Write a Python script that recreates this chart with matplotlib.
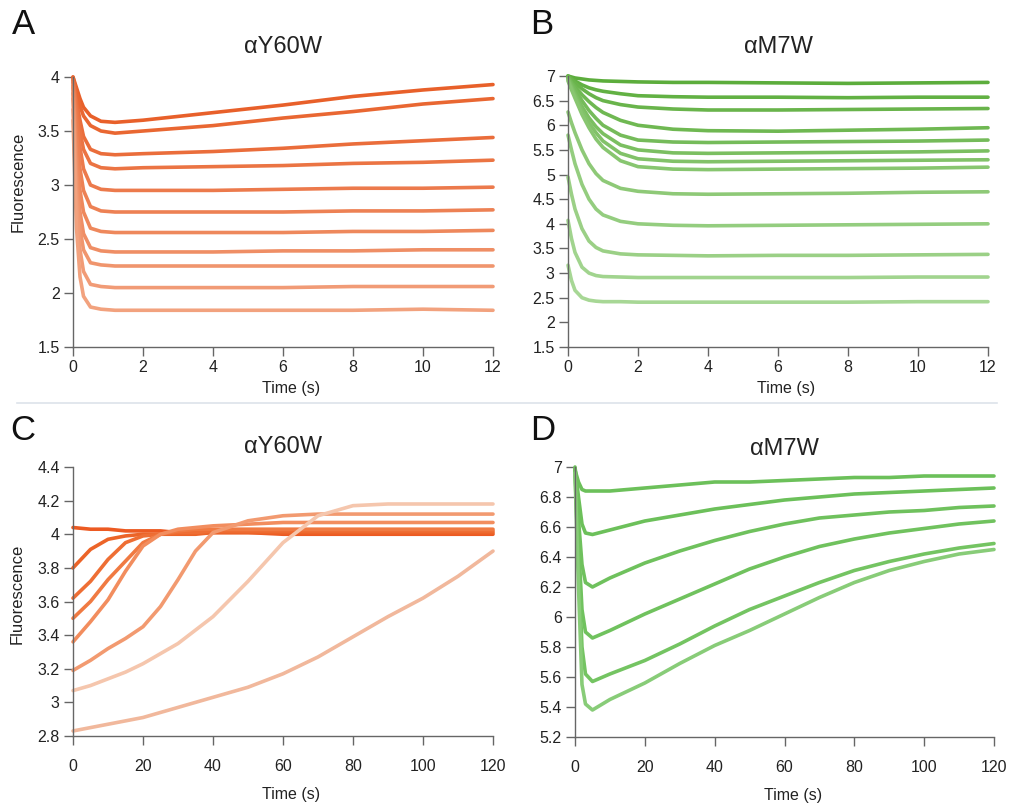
import numpy as np
import matplotlib
matplotlib.use("Agg")
import matplotlib.pyplot as plt
from matplotlib.colors import to_rgb
from matplotlib.lines import Line2D

plt.rcParams["font.family"] = ["Liberation Sans", "DejaVu Sans"]

# ---- panel A: alphaY60W, 0-12 s ----
tA = [0, 0.05, 0.1, 0.2, 0.3, 0.5, 0.8, 1.2, 2, 4, 6, 8, 10, 12]
fA = [
    [4.00, 3.95, 3.90, 3.80, 3.72, 3.64, 3.59, 3.58, 3.60, 3.67, 3.74, 3.82, 3.88, 3.93],
    [4.00, 3.93, 3.86, 3.73, 3.64, 3.55, 3.50, 3.48, 3.50, 3.55, 3.62, 3.68, 3.75, 3.80],
    [3.98, 3.88, 3.78, 3.60, 3.45, 3.33, 3.29, 3.28, 3.29, 3.31, 3.34, 3.38, 3.41, 3.44],
    [3.97, 3.85, 3.72, 3.50, 3.33, 3.20, 3.16, 3.15, 3.16, 3.17, 3.18, 3.20, 3.21, 3.23],
    [3.95, 3.80, 3.62, 3.35, 3.15, 3.00, 2.96, 2.95, 2.95, 2.95, 2.96, 2.97, 2.97, 2.98],
    [3.92, 3.70, 3.48, 3.15, 2.95, 2.80, 2.76, 2.75, 2.75, 2.75, 2.75, 2.76, 2.76, 2.77],
    [3.90, 3.60, 3.30, 2.95, 2.75, 2.60, 2.57, 2.56, 2.56, 2.56, 2.56, 2.57, 2.57, 2.58],
    [3.85, 3.50, 3.15, 2.75, 2.55, 2.42, 2.39, 2.38, 2.38, 2.38, 2.39, 2.39, 2.40, 2.40],
    [3.80, 3.40, 3.00, 2.60, 2.40, 2.28, 2.26, 2.25, 2.25, 2.25, 2.25, 2.25, 2.25, 2.25],
    [3.70, 3.25, 2.85, 2.40, 2.20, 2.08, 2.06, 2.05, 2.05, 2.05, 2.05, 2.06, 2.06, 2.06],
    [3.60, 3.10, 2.60, 2.15, 1.97, 1.87, 1.85, 1.84, 1.84, 1.84, 1.84, 1.84, 1.85, 1.84],
]

# ---- panel B: alphaM7W, 0-12 s ----
tB = [0, 0.1, 0.2, 0.4, 0.6, 0.8, 1.0, 1.5, 2, 3, 4, 6, 8, 10, 12]
fB = [
    [7.00, 6.98, 6.96, 6.94, 6.92, 6.91, 6.90, 6.89, 6.88, 6.87, 6.87, 6.86, 6.85, 6.86, 6.87],
    [7.00, 6.95, 6.90, 6.82, 6.76, 6.72, 6.69, 6.64, 6.60, 6.58, 6.57, 6.57, 6.56, 6.57, 6.57],
    [7.00, 6.93, 6.86, 6.74, 6.64, 6.56, 6.50, 6.42, 6.37, 6.33, 6.31, 6.31, 6.32, 6.33, 6.34],
    [6.98, 6.88, 6.79, 6.62, 6.48, 6.36, 6.26, 6.10, 6.00, 5.92, 5.89, 5.88, 5.90, 5.92, 5.95],
    [6.97, 6.85, 6.73, 6.50, 6.30, 6.14, 6.00, 5.80, 5.70, 5.66, 5.65, 5.66, 5.67, 5.68, 5.70],
    [6.95, 6.80, 6.65, 6.38, 6.15, 5.97, 5.83, 5.60, 5.50, 5.44, 5.43, 5.44, 5.45, 5.46, 5.48],
    [6.93, 6.76, 6.60, 6.30, 6.05, 5.85, 5.68, 5.43, 5.32, 5.27, 5.26, 5.27, 5.28, 5.29, 5.30],
    [6.90, 6.72, 6.55, 6.22, 5.95, 5.72, 5.55, 5.28, 5.16, 5.11, 5.10, 5.11, 5.12, 5.13, 5.15],
    [6.27, 6.05, 5.85, 5.50, 5.22, 5.02, 4.88, 4.72, 4.66, 4.61, 4.60, 4.61, 4.62, 4.64, 4.65],
    [5.80, 5.50, 5.22, 4.80, 4.50, 4.30, 4.18, 4.05, 4.00, 3.97, 3.96, 3.97, 3.98, 3.99, 4.00],
    [4.95, 4.60, 4.30, 3.90, 3.65, 3.52, 3.45, 3.39, 3.37, 3.36, 3.35, 3.36, 3.36, 3.37, 3.38],
    [4.07, 3.70, 3.42, 3.12, 3.00, 2.95, 2.93, 2.92, 2.91, 2.91, 2.91, 2.91, 2.91, 2.92, 2.92],
    [3.16, 2.85, 2.65, 2.50, 2.45, 2.43, 2.42, 2.42, 2.41, 2.41, 2.41, 2.41, 2.41, 2.42, 2.42],
]

# ---- panel C: alphaY60W, 0-120 s ----
tC = [0, 5, 10, 15, 20, 25, 30, 35, 40, 50, 60, 70, 80, 90, 100, 110, 120]
fC = [
    [4.04, 4.03, 4.03, 4.02, 4.02, 4.02, 4.01, 4.01, 4.01, 4.01, 4.00, 4.00, 4.00, 4.00, 4.00, 4.00, 4.00],
    [3.80, 3.91, 3.97, 3.99, 4.00, 4.00, 4.00, 4.00, 4.01, 4.01, 4.01, 4.01, 4.01, 4.01, 4.01, 4.01, 4.01],
    [3.62, 3.72, 3.85, 3.95, 3.99, 4.00, 4.01, 4.01, 4.02, 4.02, 4.02, 4.02, 4.02, 4.02, 4.02, 4.02, 4.02],
    [3.50, 3.60, 3.73, 3.84, 3.95, 4.00, 4.02, 4.03, 4.03, 4.03, 4.03, 4.03, 4.03, 4.03, 4.03, 4.03, 4.03],
    [3.36, 3.48, 3.61, 3.78, 3.93, 4.00, 4.03, 4.04, 4.05, 4.06, 4.07, 4.07, 4.07, 4.07, 4.07, 4.07, 4.07],
    [3.19, 3.25, 3.32, 3.38, 3.45, 3.57, 3.73, 3.90, 4.01, 4.08, 4.11, 4.12, 4.12, 4.12, 4.12, 4.12, 4.12],
    [3.07, 3.10, 3.14, 3.18, 3.23, 3.29, 3.35, 3.43, 3.51, 3.72, 3.95, 4.11, 4.17, 4.18, 4.18, 4.18, 4.18],
    [2.83, 2.85, 2.87, 2.89, 2.91, 2.94, 2.97, 3.00, 3.03, 3.09, 3.17, 3.27, 3.39, 3.51, 3.62, 3.75, 3.90],
]

# ---- panel D: alphaM7W, 0-120 s ----
tD = [0, 1, 2, 3, 5, 10, 20, 30, 40, 50, 60, 70, 80, 90, 100, 110, 120]
fD = [
    [6.98, 6.90, 6.85, 6.84, 6.84, 6.84, 6.86, 6.88, 6.90, 6.90, 6.91, 6.92, 6.93, 6.93, 6.94, 6.94, 6.94],
    [7.00, 6.80, 6.62, 6.56, 6.55, 6.58, 6.64, 6.68, 6.72, 6.75, 6.78, 6.80, 6.82, 6.83, 6.84, 6.85, 6.86],
    [6.99, 6.65, 6.35, 6.23, 6.20, 6.26, 6.36, 6.44, 6.51, 6.57, 6.62, 6.66, 6.68, 6.70, 6.71, 6.73, 6.74],
    [6.98, 6.50, 6.05, 5.90, 5.86, 5.91, 6.02, 6.12, 6.22, 6.32, 6.40, 6.47, 6.52, 6.56, 6.59, 6.62, 6.64],
    [6.97, 6.35, 5.80, 5.62, 5.57, 5.62, 5.71, 5.82, 5.94, 6.05, 6.14, 6.23, 6.31, 6.37, 6.42, 6.46, 6.49],
    [6.96, 6.20, 5.55, 5.42, 5.38, 5.45, 5.56, 5.69, 5.81, 5.91, 6.02, 6.13, 6.23, 6.31, 6.37, 6.42, 6.45],
]

titles = ["\u03b1Y60W", "\u03b1M7W", "\u03b1Y60W", "\u03b1M7W"]
letters = ["A", "B", "C", "D"]


def shades(c0, c1, n):
    a, b = np.array(to_rgb(c0)), np.array(to_rgb(c1))
    return [tuple(a + (b - a) * i / max(n - 1, 1)) for i in range(n)]


colA = shades("#e8602a", "#f2a27e", len(fA))
colB = shades("#5cad3c", "#a7d795", len(fB))
colC = ["#ec5a22", "#ec6428", "#ee6e34", "#f07a42", "#f28d5e", "#f29a70",
        "#f5c6ad", "#f1b89c"]
colD = ["#6cc05a", "#6cc05a", "#6fc15d", "#70c25e", "#74c462", "#88cc78"]

fig = plt.figure(figsize=(10.13, 8.09), dpi=100)
W, H = 1013, 809
FS = 11.5


def make_ax(x0, x1, ytop, ybot):
    return fig.add_axes([x0 / W, 1 - ybot / H, (x1 - x0) / W, (ybot - ytop) / H])


axA = make_ax(73, 493, 77, 347)
axB = make_ax(568, 988, 76, 347)
axC = make_ax(73, 493, 467, 736)
axD = make_ax(575, 994, 467, 737)


def style(ax, xlim, ylim, yticks, ylabels, xticks, xpad, xlab_y):
    ax.set_xlim(*xlim)
    ax.set_ylim(*ylim)
    for s in ["top", "right"]:
        ax.spines[s].set_visible(False)
    for s in ["left", "bottom"]:
        ax.spines[s].set_color("#666666")
        ax.spines[s].set_linewidth(1.0)
    ax.set_yticks(yticks)
    ax.set_yticklabels(ylabels)
    ax.set_xticks(xticks)
    ax.set_xticklabels([str(v) for v in xticks])
    ax.tick_params(axis="both", direction="out", length=6.5, width=1.0,
                   color="#666666", labelsize=FS, labelcolor="#222222")
    ax.tick_params(axis="y", pad=3)
    ax.tick_params(axis="x", pad=xpad)
    ax.set_xlabel("Time (s)", fontsize=FS, color="#222222")
    ax.xaxis.set_label_coords(0.52, xlab_y)
    ax.set_facecolor("none")


style(axA, (0, 12), (1.5, 4.0), [1.5, 2, 2.5, 3, 3.5, 4],
      ["1.5", "2", "2.5", "3", "3.5", "4"], [0, 2, 4, 6, 8, 10, 12], 3, -0.125)
style(axB, (0, 12), (1.5, 7.0), [1.5, 2, 2.5, 3, 3.5, 4, 4.5, 5, 5.5, 6, 6.5, 7],
      ["1.5", "2", "2.5", "3", "3.5", "4", "4.5", "5", "5.5", "6", "6.5", "7"],
      [0, 2, 4, 6, 8, 10, 12], 3, -0.125)
style(axC, (0, 120), (2.8, 4.4), [2.8, 3, 3.2, 3.4, 3.6, 3.8, 4, 4.2, 4.4],
      ["2.8", "3", "3.2", "3.4", "3.6", "3.8", "4", "4.2", "4.4"],
      [0, 20, 40, 60, 80, 100, 120], 10, -0.19)
style(axD, (0, 120), (5.2, 7.0), [5.2, 5.4, 5.6, 5.8, 6, 6.2, 6.4, 6.6, 6.8, 7],
      ["5.2", "5.4", "5.6", "5.8", "6", "6.2", "6.4", "6.6", "6.8", "7"],
      [0, 20, 40, 60, 80, 100, 120], 10, -0.19)

for ax, t, data, cols in [(axA, tA, fA, colA), (axB, tB, fB, colB),
                          (axC, tC, fC, colC), (axD, tD, fD, colD)]:
    for y, c in zip(data, cols):
        ax.plot(t, y, color=c, lw=2.6, solid_capstyle="round",
                solid_joinstyle="round", clip_on=False)

for ax in (axA, axC):
    ax.set_ylabel("Fluorescence", fontsize=12, color="#222222")
axA.yaxis.set_label_coords(-0.112, 0.61)
axC.yaxis.set_label_coords(-0.115, 0.53)

# titles and panel letters in pixel positions
for (x, y), s in zip([(283, 53), (778, 53), (283, 453), (784, 455)], titles):
    fig.text(x / W, 1 - y / H, s, fontsize=17, ha="center", va="baseline",
             color="#222222")
for (x, y), s in zip([(12, 34), (530, 34), (10, 440), (530, 440)], letters):
    fig.text(x / W, 1 - y / H, s, fontsize=25, ha="left", va="baseline",
             color="#111111")

# thin separator between the rows
fig.add_artist(Line2D([17 / W, 997 / W], [1 - 403 / H, 1 - 403 / H],
                      color="#dde3ea", lw=1.2))

fig.savefig("out.png", dpi=100)
